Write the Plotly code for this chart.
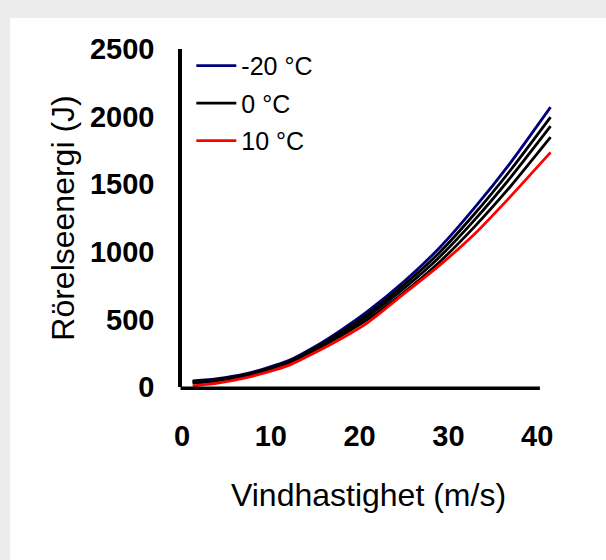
import plotly.graph_objects as go

# Wind speed (m/s)
wind = [1.2, 4, 7, 9.5, 12, 15, 18, 21, 25, 29, 33, 37, 41.5]

# Kinetic energy (J) per temperature
e_m20 = [45, 62, 95, 140, 195, 300, 425, 565, 780, 1030, 1330, 1660, 2070]
e_bk1 = [40, 57, 90, 133, 188, 290, 410, 545, 755, 995, 1285, 1605, 1996]
e_0 = [35, 52, 85, 127, 182, 282, 398, 528, 730, 962, 1240, 1550, 1929]
e_bk3 = [28, 46, 80, 120, 176, 272, 383, 505, 700, 925, 1190, 1485, 1848]
e_10 = [8, 28, 65, 108, 160, 255, 360, 480, 690, 900, 1135, 1410, 1735]

x_ticks = [0, 10, 20, 30, 40]
y_ticks = [0, 500, 1000, 1500, 2000, 2500]

series = [
    ("-20 °C", e_m20, "#00007f", True),
    ("bk1", e_bk1, "#000000", False),
    ("0 °C", e_0, "#000000", True),
    ("bk3", e_bk3, "#000000", False),
    ("10 °C", e_10, "#ff0000", True),
]

FONT = "Liberation Sans, Arial, sans-serif"

fig = go.Figure()
for i, (name, vals, col, show) in enumerate(series):
    fig.add_trace(go.Scatter(
        x=wind, y=vals, mode="lines", name=name, showlegend=show,
        legendgroup="g%d" % i,
        line=dict(color=col, width=2.8, shape="spline", smoothing=0.6),
    ))

W, H = 606, 560
ml, mr, mt, mb = 182, 51, 49, 173
X_MAX = 42

fig.update_layout(
    width=W, height=H,
    margin=dict(l=ml, r=mr, t=mt, b=mb),
    paper_bgcolor="#ececec",
    plot_bgcolor="rgba(0,0,0,0)",
    font=dict(family=FONT, color="#000000"),
    showlegend=True,
    legend=dict(
        x=0.025, y=1.018, xanchor="left", yanchor="top",
        bgcolor="rgba(0,0,0,0)",
        font=dict(size=25, family=FONT, color="#000000"),
        tracegroupgap=2, itemwidth=40,
    ),
    xaxis=dict(
        range=[0, X_MAX], tickvals=x_ticks, showgrid=False, zeroline=False,
        showline=False, ticks="", ticklabelstandoff=29, automargin=False,
        tickfont=dict(size=29, family=FONT, weight="bold"),
        title=dict(text="Vindhastighet (m/s)", font=dict(size=32, family=FONT), standoff=32),
    ),
    yaxis=dict(
        range=[0, 2500], tickvals=y_ticks, showgrid=False, zeroline=False,
        showline=True, linecolor="#000000", linewidth=3.5, ticks="",
        ticklabelstandoff=18, automargin=False,
        tickfont=dict(size=29, family=FONT, weight="bold"),
        title=dict(text="Rörelseenergi (J)", font=dict(size=32, family=FONT), standoff=7),
    ),
)

pw = W - ml - mr
ph = H - mt - mb
# white card over the grey shadow frame
fig.add_shape(type="rect", xref="paper", yref="paper", layer="below",
              x0=(10 - ml) / pw, x1=(W + 5 - ml) / pw,
              y0=-(mb + 5) / ph, y1=(H - 18 - mb) / ph,
              fillcolor="#ffffff", line=dict(width=0))
# x axis line (ends at ~40.3)
fig.add_shape(type="line", xref="paper", yref="paper",
              x0=-0.004, x1=40.3 / X_MAX, y0=-0.004, y1=-0.004,
              line=dict(color="#000000", width=3.5))

fig.write_html(
    "out.html",
    config={"displayModeBar": False},
    post_script="document.body.style.margin='0';document.body.style.overflow='hidden';",
)
